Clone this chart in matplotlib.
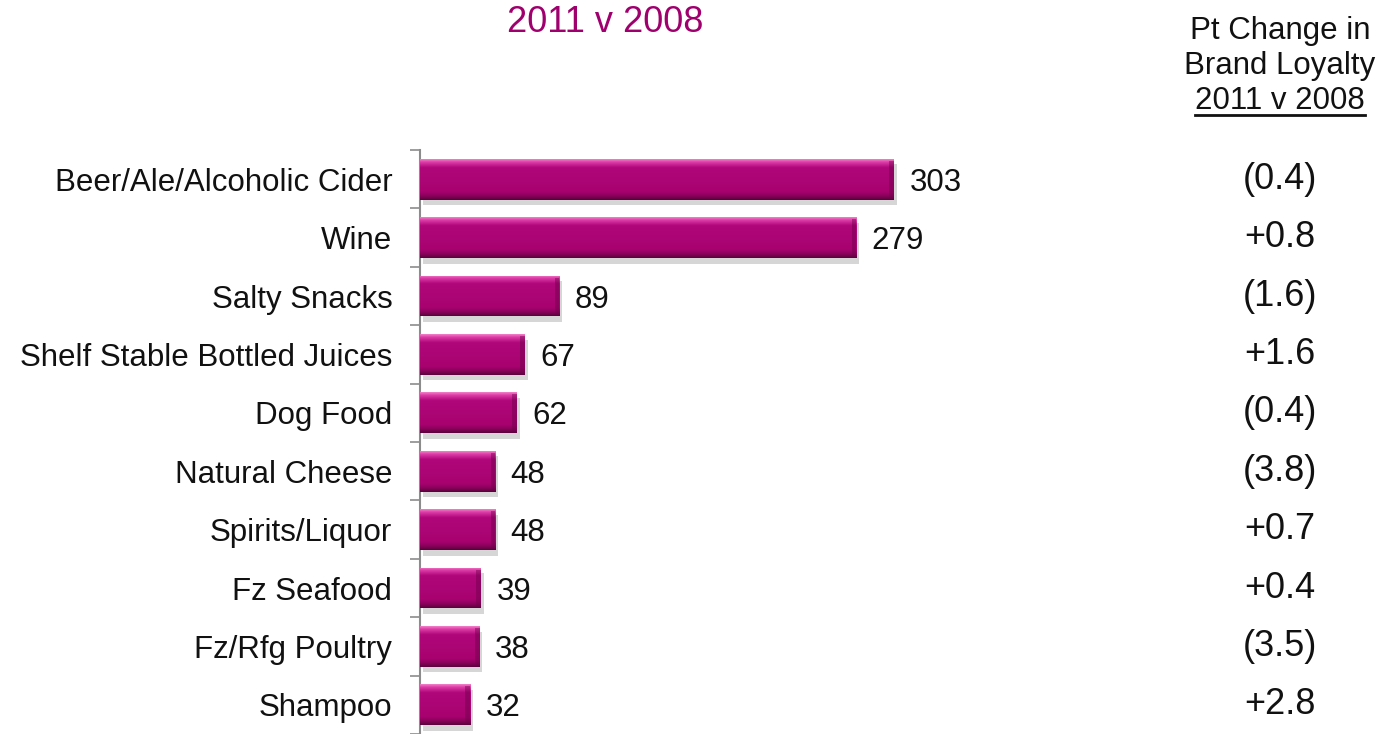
import numpy as np
import matplotlib.pyplot as plt
import matplotlib.transforms as mtransforms
from matplotlib.colors import LinearSegmentedColormap
from matplotlib.lines import Line2D
import matplotlib.patheffects as pe

plt.rcParams['font.family'] = ['Liberation Sans', 'DejaVu Sans']

categories = ['Beer/Ale/Alcoholic Cider', 'Wine', 'Salty Snacks', 'Shelf Stable Bottled Juices',
              'Dog Food', 'Natural Cheese', 'Spirits/Liquor', 'Fz Seafood', 'Fz/Rfg Poultry', 'Shampoo']
index_values = [303, 279, 89, 67, 62, 48, 48, 39, 38, 32]
loyalty_change = ['(0.4)', '+0.8', '(1.6)', '+1.6', '(0.4)', '(3.8)', '+0.7', '+0.4', '(3.5)', '+2.8']

title_text = '2011 v 2008'
header_lines = ['Pt Change in', 'Brand Loyalty', '2011 v 2008']

magenta = '#A0006E'
bar_cmap = LinearSegmentedColormap.from_list('bevel', [
    (0.00, '#F27CC6'), (0.07, '#DC3AA6'), (0.20, '#B0077A'),
    (0.80, '#A8026F'), (0.90, '#8C005C'), (1.00, '#5C003E')])

fig = plt.figure(figsize=(13.82, 7.34), dpi=100)
ax = fig.add_axes([0.304, 0.0, 0.5, 0.7956])

y = np.arange(len(categories))
bar_h = 0.70
bars = ax.barh(y, index_values, height=bar_h, color='#A8026F', zorder=2,
               path_effects=[pe.SimplePatchShadow(offset=(2, -4), shadow_rgbFace='0.55', alpha=0.35),
                             pe.Normal()])

# bevelled look: vertical gradient clipped to each bar, darker right edge
grad = np.linspace(0, 1, 64).reshape(-1, 1)
edge = 3.0
for yi, v, b in zip(y, index_values, bars):
    im = ax.imshow(grad, cmap=bar_cmap, aspect='auto', origin='upper',
                   extent=(0, v, yi + bar_h / 2, yi - bar_h / 2), zorder=3)
    im.set_clip_path(b)
    ax.barh(yi, edge, left=v - edge, height=bar_h * 0.9, color='#6E004A', alpha=0.45,
            zorder=4, linewidth=0)
    ax.annotate(str(v), xy=(v, yi), xytext=(11, 0), textcoords='offset points',
                ha='left', va='center_baseline', fontsize=22.5, color='#111111')

ax.set_xlim(0, 0.5 * 1382 / 1.564)
ax.set_ylim(len(categories) - 0.5, -0.5)

ax.set_yticks(np.arange(-0.5, len(categories), 1))
ax.set_yticklabels([])
ax.set_yticks(y, minor=True)
ax.set_yticklabels(categories, minor=True, fontsize=22.5, color='#111111')
ax.tick_params(axis='y', which='major', length=7, width=1.2, color='#8C8C8C', direction='out')
ax.tick_params(axis='y', which='minor', length=0, pad=20)
ax.set_xticks([])
for s in ['top', 'right', 'bottom']:
    ax.spines[s].set_visible(False)
ax.spines['left'].set_color('#8C8C8C')
ax.spines['left'].set_linewidth(1.5)

fig.text(605 / 1382, 1 - 23 / 734, title_text, ha='center', va='center',
         fontsize=26, color=magenta)

# right-hand column with point changes
col_x = 1280 / 1382
header_y = [31, 66, 101]
header_objs = []
for line, hy in zip(header_lines, header_y):
    header_objs.append(fig.text(col_x, 1 - hy / 734, line, ha='center', va='center',
                                fontsize=22.5, color='#111111'))

trans = mtransforms.blended_transform_factory(fig.transFigure, ax.transData)
for yi, txt in zip(y, loyalty_change):
    ax.text(col_x, yi, txt, transform=trans, ha='center', va='center',
            fontsize=26, color='#111111', clip_on=False)

fig.canvas.draw()
bb = header_objs[-1].get_window_extent().transformed(fig.transFigure.inverted())
fig.add_artist(Line2D([bb.x0, bb.x1], [bb.y0 + 0.002, bb.y0 + 0.002],
                      transform=fig.transFigure, color='#111111', linewidth=2))

fig.savefig('out.png', dpi=100)
